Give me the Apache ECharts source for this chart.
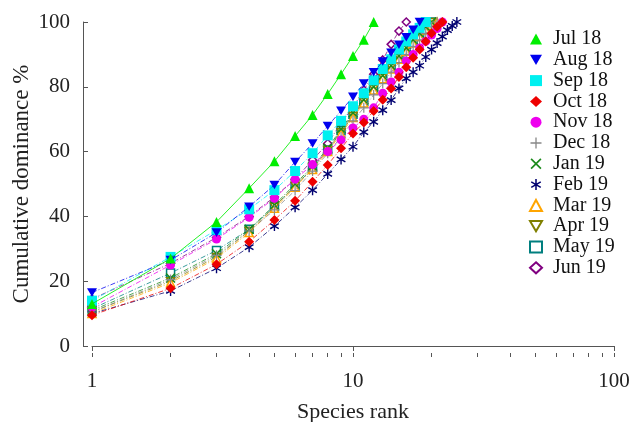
<!DOCTYPE html>
<html>
<head>
<meta charset="utf-8">
<script src="https://cdn.jsdelivr.net/npm/echarts@6/dist/echarts.min.js"></script>
<style>
  html, body { margin: 0; padding: 0; background: #fff; }
  #main { width: 629px; height: 422px; }
</style>
</head>
<body>
<div id="main"></div>
<script>
// cumulative dominance % by species rank (rank = index + 1)
var names = ['Jul 18', 'Aug 18', 'Sep 18', 'Oct 18', 'Nov 18', 'Dec 18', 'Jan 19', 'Feb 19', 'Mar 19', 'Apr 19', 'May 19', 'Jun 19'];
var jul18 = [13, 27, 38.3, 48.7, 57, 64.8, 71.3, 77.8, 83.9, 89.5, 94.5, 100];
var aug18 = [16.5, 26.5, 35, 43, 49.7, 56.8, 62.5, 67.9, 72.6, 76.9, 81, 84.5, 87.8, 90.5, 93, 95.3, 97.6, 100];
var sep18 = [14, 27.5, 35.8, 42.2, 48.1, 54, 59.5, 65, 69.5, 74, 78, 82, 85.5, 88.5, 91.5, 94, 96.2, 98.2, 100];
var oct18 = [9.5, 17.8, 25.2, 32.2, 38.9, 44.8, 50.7, 55.9, 61, 65.6, 69, 72.5, 76, 79.5, 83, 86, 89, 91.5, 94, 96.5, 98.5, 100];
var nov18 = [12, 25, 33, 39.7, 45.6, 51.5, 56, 60, 63.6, 67.3, 70, 73.5, 78, 81.5, 84.5, 88, 90, 92, 94, 96, 98, 100];
var dec18 = [10.5, 20.5, 28, 35.5, 42, 48, 54, 59.5, 64.5, 69.5, 73.5, 77.5, 81, 84.5, 87.5, 90, 92.5, 94.5, 96.5, 98.5, 100];
var jan19 = [11, 21, 28.5, 36, 43.5, 50, 55.5, 61, 67, 72, 76, 80, 83.5, 86.5, 89.5, 92, 94.5, 96.5, 98.5, 100];
var feb19 = [10, 17, 24, 30.5, 37, 42.8, 48.1, 53.1, 57.6, 61.5, 66, 69.2, 72.8, 75.9, 79.5, 82.6, 84.5, 86.5, 89.2, 91.5, 93.5, 95.5, 97.5, 98.8, 100];
var mar19 = [10, 19.5, 27, 35, 42.5, 49, 54.5, 60, 65.5, 70.5, 75, 79, 82.5, 85.5, 88.5, 91, 93.5, 95.5, 97.5, 99, 100];
var apr19 = [10.5, 20, 27.5, 35.5, 43, 49.5, 55, 60.5, 66, 71, 75.5, 79.5, 83, 86, 89, 91.5, 94, 96, 98, 100];
var may19 = [11.5, 22.5, 29.5, 36, 43, 49.2, 55, 60.5, 66.5, 71.5, 75.5, 79.5, 83, 86, 89, 91.5, 94, 96, 98, 100];
var jun19 = [14.5, 25.5, 33.5, 40, 46, 51.5, 57.4, 62.5, 68.8, 73.7, 79, 83.9, 88.3, 93.1, 97.2, 100];
var xLabels = [1, 10, 100];
var minorX = [1, 2, 3, 4, 5, 6, 7, 8, 9, 10, 20, 30, 40, 50, 60, 70, 80, 90, 100];

var allData = [jul18, aug18, sep18, oct18, nov18, dec18, jan19, feb19, mar19, apr19, may19, jun19];

var STAR = 'path://M-0.7,-5L0.7,-5L0.7,5L-0.7,5Z M3.98,-3.11L4.68,-1.89L-3.98,3.11L-4.68,1.89Z M-4.68,-1.89L-3.98,-3.11L4.68,1.89L3.98,3.11Z';
var PLUS = 'path://M-0.6,-5H0.6V-0.6H5V0.6H0.6V5H-0.6V0.6H-5V-0.6H-0.6Z';
var CROSS = 'path://M3.11,-3.96L3.96,-3.11L-3.11,3.96L-3.96,3.11Z M-3.96,-3.11L-3.11,-3.96L3.96,3.11L3.11,3.96Z';
var TRI_DOWN = 'path://M-5,-4.3L5,-4.3L0,4.3Z';

// colour, symbol, open marker
var styles = [
  ['#00ee00', 'triangle', false],
  ['#0000ee', TRI_DOWN, false],
  ['#00f0f0', 'rect', false],
  ['#ee0000', 'diamond', false],
  ['#ee00ee', 'circle', false],
  ['#888888', PLUS, false],
  ['#1a8a1a', CROSS, false],
  ['#000070', STAR, false],
  ['#ffa500', 'triangle', true],
  ['#808000', TRI_DOWN, true],
  ['#007f7f', 'rect', true],
  ['#800080', 'diamond', true]
];

var FONT = 'Liberation Serif';

var series = allData.map(function (vals, i) {
  var st = styles[i];
  return {
    name: names[i],
    type: 'line',
    data: vals.map(function (v, k) { return [k + 1, v]; }),
    symbol: st[1],
    symbolKeepAspect: true,
    symbolSize: st[2] ? 8 : (st[1] === 'circle' ? 9 : 10),
    itemStyle: st[2]
      ? { color: '#fff', borderColor: st[0], borderWidth: 1.5 }
      : { color: st[0] },
    lineStyle: {
      color: st[0],
      width: i === 0 ? 1 : 0.9,
      type: i === 0 ? 'solid' : [5, 2, 1, 2],
      opacity: 0.85
    },
    z: 12 - i,
    animation: false
  };
});

var chart = echarts.init(document.getElementById('main'));
chart.setOption({
  backgroundColor: '#fff',
  animation: false,
  grid: { left: 92, right: 15, top: 22, bottom: 76, outerBoundsMode: 'none', containLabel: false },
  legend: {
    orient: 'vertical',
    left: 524,
    top: 24,
    itemWidth: 12,
    itemHeight: 11,
    itemGap: 0.8,
    textStyle: { fontFamily: FONT, fontSize: 20, lineHeight: 20, color: '#111', padding: [0, 0, 0, 6] },
    data: names.map(function (n, i) { return { name: n, icon: styles[i][1] }; })
  },
  xAxis: [{
    type: 'log',
    logBase: 10,
    min: 1,
    max: 100,
    offset: 11,
    name: 'Species rank',
    nameLocation: 'middle',
    nameGap: 44,
    nameMoveOverlap: false,
    nameTextStyle: { fontFamily: FONT, fontSize: 22, color: '#222' },
    axisLine: { lineStyle: { color: '#555', width: 1 } },
    axisTick: { show: true, inside: false, length: 5, lineStyle: { color: '#555' } },
    axisLabel: { fontFamily: FONT, fontSize: 21, color: '#222', margin: 14,
      customValues: xLabels },
    splitLine: { show: false }
  }, {
    type: 'log',
    logBase: 10,
    min: 1,
    max: 100,
    position: 'bottom',
    offset: 11,
    axisLine: { show: false },
    axisTick: { show: true, inside: true, length: 4, lineStyle: { color: '#555' },
      customValues: minorX },
    axisLabel: { show: false },
    splitLine: { show: false }
  }],
  yAxis: {
    type: 'value',
    min: 0,
    max: 100,
    interval: 20,
    offset: 9,
    name: 'Cumulative dominance %',
    nameLocation: 'middle',
    nameGap: 50,
    nameMoveOverlap: false,
    nameTextStyle: { fontFamily: FONT, fontSize: 23, color: '#222' },
    axisLine: { show: true, lineStyle: { color: '#555', width: 1 } },
    axisTick: { show: true, inside: true, length: 5, lineStyle: { color: '#555' } },
    axisLabel: { fontFamily: FONT, fontSize: 21, color: '#222', margin: 13 },
    splitLine: { show: false }
  },
  series: series
});
</script>
</body>
</html>
